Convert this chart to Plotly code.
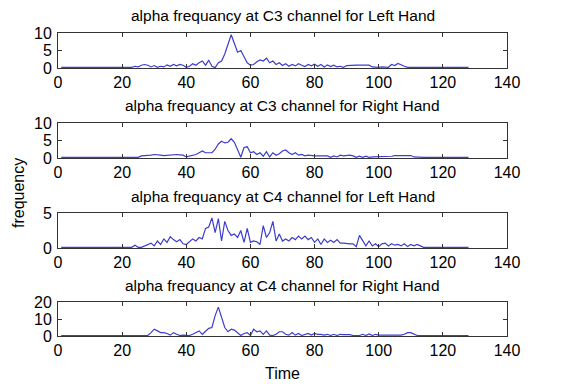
import plotly.graph_objects as go

time = list(range(1, 129))

titles = [
    "alpha frequancy at C3 channel for Left Hand",
    "alpha frequancy at C3 channel for Right Hand",
    "alpha frequancy at C4 channel for Left Hand",
    "alpha frequancy at C4 channel for Right Hand",
]

c3_left = [0.2] * 23 + [
    0.5, 0.3, 0.8, 1.0, 0.8, 0.3, 0.7, 0.2, 0.5, 0.3,   # 24-33
    0.9, 0.5, 1.0, 0.6, 1.0, 0.8, 0.2, 0.5, 1.2, 0.8,   # 34-43
    1.5, 2.0, 0.8, 2.2, 0.5, 0.1, 1.5, 2.0, 4.0, 6.5,   # 44-53
    9.5, 7.0, 4.5, 5.0, 3.0, 1.5, 0.8, 1.0, 1.8, 2.3,   # 54-63
    2.0, 2.8, 1.5, 2.0, 1.0, 1.5, 0.7, 1.2, 0.5, 1.0,   # 64-73
    0.6, 1.2, 0.8, 0.4, 1.0, 0.6, 1.1, 0.5, 1.0, 0.3,   # 74-83
    0.9, 0.4, 0.8, 0.3, 0.5, 0.2, 0.7, 0.8, 0.8, 0.8,   # 84-93
    0.8, 0.8, 0.9, 0.8, 0.3, 0.2, 0.2, 0.3, 0.3, 0.2,   # 94-103
    1.0, 0.7, 1.3, 0.8, 0.5, 0.2,                       # 104-109
] + [0.2] * 19

c3_right = [0.2] * 25 + [
    0.6, 0.6, 0.7, 0.8, 1.0, 0.8, 0.8, 0.7, 0.8, 1.0,   # 26-35
    1.0, 1.0, 0.9, 0.8, 0.3, 0.5, 0.6, 1.0, 1.5, 2.0,   # 36-45
    1.5, 1.5, 1.5, 2.5, 4.0, 4.8, 4.3, 4.5, 5.5, 4.5,   # 46-55
    2.5, 0.2, 3.0, 3.2, 1.5, 1.8, 1.0, 1.5, 0.5, 1.8,   # 56-65
    0.3, 1.5, 0.8, 1.2, 2.0, 2.3, 1.5, 1.0, 1.5, 0.8,   # 66-75
    1.0, 0.6, 0.8, 0.6, 0.6, 0.6, 0.6, 0.6, 0.6, 0.2,   # 76-85
    0.6, 0.3, 0.8, 0.6, 0.8, 0.8, 0.6, 0.2, 0.5, 0.2,   # 86-95
    0.5, 0.2, 0.3, 0.3, 0.3, 0.3, 0.5, 0.3, 0.5, 0.7,   # 96-105
    0.7, 0.7, 0.7, 0.7, 0.7, 0.3,                       # 106-111
] + [0.2] * 17

c4_left = [0.1] * 23 + [
    0.4, 0.1, 0.1, 0.3, 0.5, 0.7, 0.3, 1.0, 0.5, 1.3,   # 24-33
    0.8, 1.6, 1.2, 0.9, 1.2, 0.6, 0.5, 0.9, 1.3, 1.0,   # 34-43
    1.5, 1.3, 2.8, 3.0, 4.3, 2.2, 4.2, 1.0, 3.8, 2.5,   # 44-53
    1.8, 2.0, 1.5, 2.5, 0.8, 2.8, 0.8, 1.0, 0.9, 0.5,   # 54-63
    3.2, 1.5, 2.2, 3.8, 1.0, 2.0, 1.0, 1.3, 1.0, 1.5,   # 64-73
    1.2, 1.7, 1.3, 1.7, 1.2, 1.5, 0.8, 1.3, 0.5, 1.3,   # 74-83
    0.8, 1.1, 0.8, 1.2, 0.7, 0.7, 0.6, 0.6, 0.6, 0.2,   # 84-93
    1.8, 1.0, 0.3, 1.0, 0.3, 0.6, 0.2, 0.6, 0.7, 0.3,   # 94-103
    0.6, 0.4, 0.5, 0.3, 0.6, 0.2, 0.5, 0.3, 0.5, 0.3,   # 104-113
] + [0.1] * 15

c4_right = [0.3] * 28 + [
    2.0, 4.0, 3.0, 2.0, 2.0, 1.5, 0.5, 2.0, 1.0, 0.3,   # 29-38
    0.5, 0.3, 0.3, 1.0, 2.0, 3.0, 1.0, 3.0, 4.5, 5.0,   # 39-48
    12.0, 17.0, 11.0, 5.0, 2.5, 4.0, 3.5, 2.0, 0.3, 1.5, # 49-58
    2.0, 0.3, 4.0, 2.5, 3.0, 1.0, 3.0, 0.5, 0.3, 1.0,   # 59-68
    2.5, 2.5, 1.0, 0.5, 2.0, 0.5, 1.5, 0.3, 1.0, 1.5,   # 69-78
    0.5, 1.5, 1.0, 1.0, 0.5, 1.0, 0.3, 1.0, 0.3, 1.0,   # 79-88
    0.8, 0.8, 0.8, 0.3, 0.3, 0.3, 1.0, 0.3, 1.2, 0.3,   # 89-98
    1.0, 0.5, 0.5, 0.5, 0.5, 0.5, 0.5, 0.5, 0.5, 1.0,   # 99-108
    2.0, 2.0, 1.0,                                      # 109-111
] + [0.3] * 17

series = [c3_left, c3_right, c4_left, c4_right]
y_ranges = [[0, 10], [0, 10], [0, 5], [0, 20]]
y_ticks = [[0, 5, 10], [0, 5, 10], [0, 5], [0, 10, 20]]
x_ticks = [0, 20, 40, 60, 80, 100, 120, 140]

W, H = 577, 384
# panel pixel boxes (top, bottom)
boxes = [(33, 68), (123, 158), (213, 248), (302, 336)]
title_y = [15, 105, 196, 285]

FONT = "Liberation Sans, Arial, sans-serif"
fig = go.Figure()
layout = dict(
    width=W, height=H,
    margin=dict(l=0, r=0, t=0, b=0, autoexpand=False),
    paper_bgcolor="white", plot_bgcolor="white",
    showlegend=False,
    font=dict(family=FONT, color="black"),
)
annotations = []
x0p, x1p = 58 / W, 507 / W
for i, (ys, rng, tv) in enumerate(zip(series, y_ranges, y_ticks)):
    n = "" if i == 0 else str(i + 1)
    fig.add_trace(go.Scatter(x=time, y=ys, mode="lines",
                             line=dict(color="#3d3dcc", width=1.2),
                             xaxis="x" + n, yaxis="y" + n))
    top, bot = boxes[i]
    axcommon = dict(showline=True, linecolor="#333333", linewidth=1, mirror="ticks",
                    ticks="inside", ticklen=4, tickcolor="#333333",
                    showgrid=False, zeroline=False, automargin=False,
                    tickfont=dict(size=16, family=FONT, color="black"))
    layout["xaxis" + n] = dict(domain=[x0p, x1p], range=[0, 140], tickvals=x_ticks,
                               anchor="y" + n, **axcommon)
    layout["yaxis" + n] = dict(domain=[1 - bot / H, 1 - top / H], range=rng, tickvals=tv,
                               anchor="x" + n, ticklabelstandoff=2, **axcommon)
    annotations.append(dict(text=titles[i], x=(x0p + x1p) / 2, y=1 - title_y[i] / H,
                            xref="paper", yref="paper", showarrow=False,
                            xanchor="center", yanchor="middle",
                            font=dict(size=15.5, family=FONT, color="black")))

annotations.append(dict(text="Time", x=(x0p + x1p) / 2, y=1 - 373 / H, xref="paper", yref="paper",
                        showarrow=False, xanchor="center", yanchor="middle",
                        font=dict(size=16, family=FONT, color="black")))
annotations.append(dict(text="frequency", x=18 / W, y=1 - 193 / H, xref="paper", yref="paper",
                        showarrow=False, textangle=-90, xanchor="center", yanchor="middle",
                        font=dict(size=16, family=FONT, color="black")))
layout["annotations"] = annotations
fig.update_layout(**layout)
fig.write_html("out.html", config={"displayModeBar": False},
               post_script="document.body.style.margin='0';document.body.style.overflow='hidden';")
